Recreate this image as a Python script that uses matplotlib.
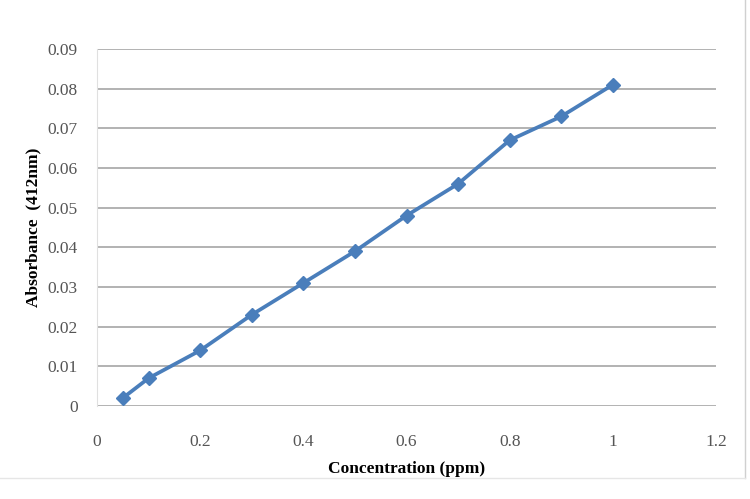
import matplotlib.pyplot as plt
import numpy as np

# Calibration data
conc = [0.05, 0.1, 0.2, 0.3, 0.4, 0.5, 0.6, 0.7, 0.8, 0.9, 1.0]
absorb = [0.002, 0.007, 0.014, 0.023, 0.031, 0.039, 0.048, 0.056, 0.067, 0.073, 0.081]

x_ticks = [0, 0.2, 0.4, 0.6, 0.8, 1.0, 1.2]
x_labels = ["0", "0.2", "0.4", "0.6", "0.8", "1", "1.2"]
y_ticks = [0, 0.01, 0.02, 0.03, 0.04, 0.05, 0.06, 0.07, 0.08, 0.09]
y_labels = ["0", "0.01", "0.02", "0.03", "0.04", "0.05", "0.06", "0.07", "0.08", "0.09"]

plt.rcParams['font.family'] = ['Liberation Serif', 'DejaVu Serif']

fig = plt.figure(figsize=(7.5, 4.99), dpi=100)
ax = fig.add_axes([0.1293, 0.1864, 0.8254, 0.7154])

ax.plot(conc, absorb, color='#4a7ebb', linewidth=2.7, marker='D', markersize=7,
        markerfacecolor='#4a7ebb', markeredgecolor='#4a7ebb', zorder=3)

ax.set_xlim(0, 1.2)
ax.set_ylim(0, 0.09)
ax.set_xticks(x_ticks)
ax.set_xticklabels(x_labels)
ax.set_yticks(y_ticks)
ax.set_yticklabels(y_labels)
ax.tick_params(axis='both', length=0, labelsize=12.5, labelcolor='#555555')
ax.tick_params(axis='x', pad=20)
ax.tick_params(axis='y', pad=14)

ax.grid(axis='y', color='#a6a6a6', linewidth=1.2)
ax.set_axisbelow(True)
for s in ['top', 'right', 'bottom']:
    ax.spines[s].set_visible(False)
ax.spines['left'].set_color('#e0e0e0')

ax.set_xlabel('Concentration (ppm)', fontsize=12.5, fontweight='bold', labelpad=8)
ax.set_ylabel('Absorbance  (412nm)', fontsize=12.5, fontweight='bold', labelpad=4)

# chart area border (right and bottom edges)
fig.add_artist(plt.Line2D([745/750, 745/750], [21/499, 1.0], transform=fig.transFigure,
                          color='#d0d0d0', linewidth=1))
fig.add_artist(plt.Line2D([0.0, 745/750], [21/499, 21/499], transform=fig.transFigure,
                          color='#e6e6e6', linewidth=1))

fig.savefig('out.png', dpi=100)
